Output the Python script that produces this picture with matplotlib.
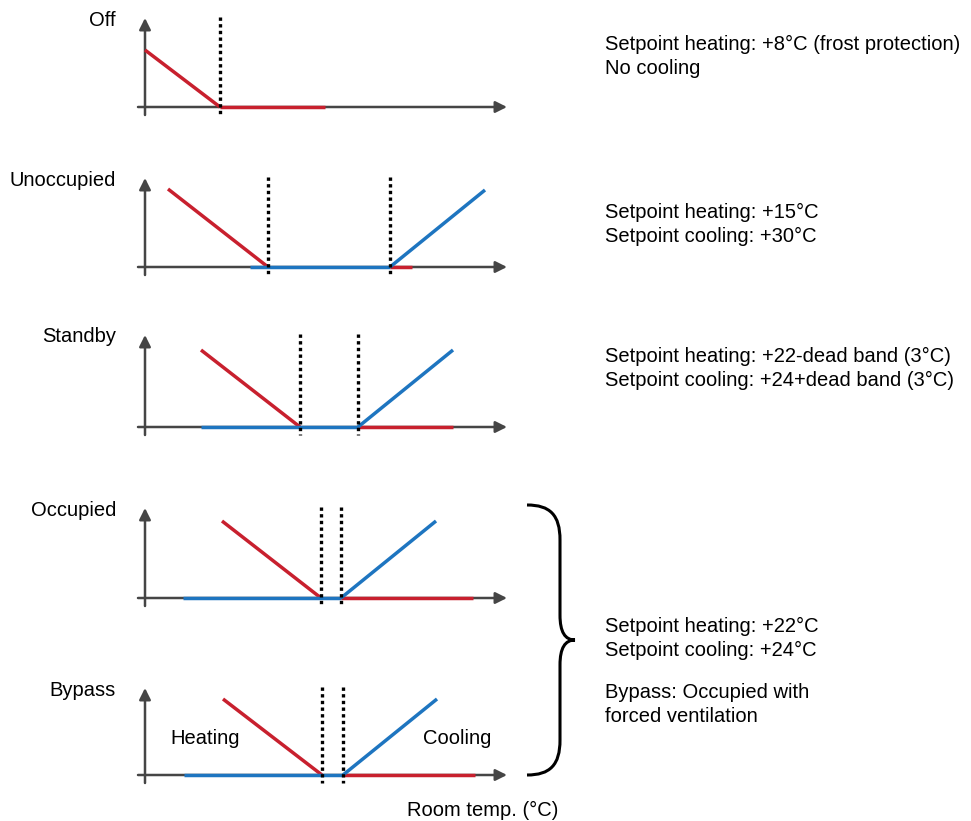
import matplotlib
matplotlib.use("Agg")
import matplotlib.pyplot as plt
from matplotlib.path import Path
from matplotlib.patches import PathPatch

plt.rcParams['font.family'] = ['Liberation Sans', 'DejaVu Sans']

# panel names and setpoint texts
modes = ['Off', 'Unoccupied', 'Standby', 'Occupied', 'Bypass']
notes = [
    ['Setpoint heating: +8°C (frost protection)', 'No cooling'],
    ['Setpoint heating: +15°C', 'Setpoint cooling: +30°C'],
    ['Setpoint heating: +22-dead band (3°C)', 'Setpoint cooling: +24+dead band (3°C)'],
]
shared_note = ['Setpoint heating: +22°C', 'Setpoint cooling: +24°C']
bypass_note = ['Bypass: Occupied with', 'forced ventilation']

# schematic curves, x measured from the y axis, y = output above baseline
heat_ramp_start = [0, 23, 56, 77, 78]
heat_setpoint = [75, 123, 155, 176, 177]
heat_ramp_height = [57, 78, 77, 77, 76]
cool_setpoint = [None, 245, 213, 196, 198]
cool_ramp_end = [None, 340, 308, 291, 292]
cool_ramp_height = [None, 77, 77, 77, 76]
blue_flat_start = [None, 105, 56, 38, 39]
red_flat_end = [180, 267, 308, 328, 330]

# layout (pixels)
x0 = 145
baselines = [107, 267, 427, 598, 775]
tops = [18, 178, 335, 508, 688]
axis_end = 507

RED = '#c8202e'
BLUE = '#1e75c0'
GREY = '#454545'
FS = 14.5

fig = plt.figure(figsize=(9.71, 8.21), dpi=100)
ax = fig.add_axes([0, 0, 1, 1])
ax.set_xlim(0, 971)
ax.set_ylim(821, 0)
ax.axis('off')

lw_c = 2.5
for i, name in enumerate(modes):
    b = baselines[i]
    t = tops[i]
    # axes with arrows
    ax.annotate('', xy=(axis_end, b), xytext=(138, b),
                arrowprops=dict(arrowstyle='-|>', color=GREY, lw=1.8,
                                mutation_scale=17, shrinkA=0, shrinkB=0))
    ax.annotate('', xy=(x0, t), xytext=(x0, b + 8),
                arrowprops=dict(arrowstyle='-|>', color=GREY, lw=1.8,
                                mutation_scale=17, shrinkA=0, shrinkB=0))
    # heating ramp
    ax.plot([x0 + heat_ramp_start[i], x0 + heat_setpoint[i]],
            [b - heat_ramp_height[i], b], color=RED, lw=lw_c,
            solid_capstyle='butt', zorder=3)
    if cool_setpoint[i] is None:
        ax.plot([x0 + heat_setpoint[i], x0 + red_flat_end[i]], [b, b],
                color=RED, lw=lw_c, solid_capstyle='butt', zorder=3)
        dots = [heat_setpoint[i]]
    else:
        ax.plot([x0 + blue_flat_start[i], x0 + cool_setpoint[i]], [b, b],
                color=BLUE, lw=lw_c, solid_capstyle='butt', zorder=3)
        ax.plot([x0 + cool_setpoint[i], x0 + red_flat_end[i]], [b, b],
                color=RED, lw=lw_c, solid_capstyle='butt', zorder=3)
        ax.plot([x0 + cool_setpoint[i], x0 + cool_ramp_end[i]],
                [b, b - cool_ramp_height[i]], color=BLUE, lw=lw_c,
                solid_capstyle='butt', zorder=3)
        dots = [heat_setpoint[i], cool_setpoint[i]]
    for d in dots:
        ax.plot([x0 + d, x0 + d], [t - 1, b + 8], color='black', lw=2.4,
                linestyle=(0, (1, 1)), zorder=4)
    ax.text(116, t + 2, name, ha='right', va='center', fontsize=FS)

for i, lines in enumerate(notes):
    ax.text(605, [44, 212, 356][i], lines[0], ha='left', va='center', fontsize=FS)
    ax.text(605, [68, 236, 380][i], lines[1], ha='left', va='center', fontsize=FS)
ax.text(605, 626, shared_note[0], ha='left', va='center', fontsize=FS)
ax.text(605, 650, shared_note[1], ha='left', va='center', fontsize=FS)
ax.text(605, 693, bypass_note[0], ha='left', va='center', fontsize=FS)
ax.text(605, 717, bypass_note[1], ha='left', va='center', fontsize=FS)

ax.text(205, 738, 'Heating', ha='center', va='center', fontsize=FS)
ax.text(457, 738, 'Cooling', ha='center', va='center', fontsize=FS)
ax.text(483, 810, 'Room temp. (°C)', ha='center', va='center', fontsize=FS)

# curly brace joining Occupied and Bypass
verts = [(527, 505), (550, 505), (560, 515), (560, 540),
         (560, 615),
         (560, 632), (565, 640), (575, 640),
         (565, 640), (560, 648), (560, 665),
         (560, 740),
         (560, 765), (550, 775), (527, 775)]
codes = [Path.MOVETO, Path.CURVE4, Path.CURVE4, Path.CURVE4,
         Path.LINETO,
         Path.CURVE4, Path.CURVE4, Path.CURVE4,
         Path.CURVE4, Path.CURVE4, Path.CURVE4,
         Path.LINETO,
         Path.CURVE4, Path.CURVE4, Path.CURVE4]
ax.add_patch(PathPatch(Path(verts, codes), fill=False, lw=2.2, edgecolor='black'))

fig.savefig('out.png', dpi=100)
